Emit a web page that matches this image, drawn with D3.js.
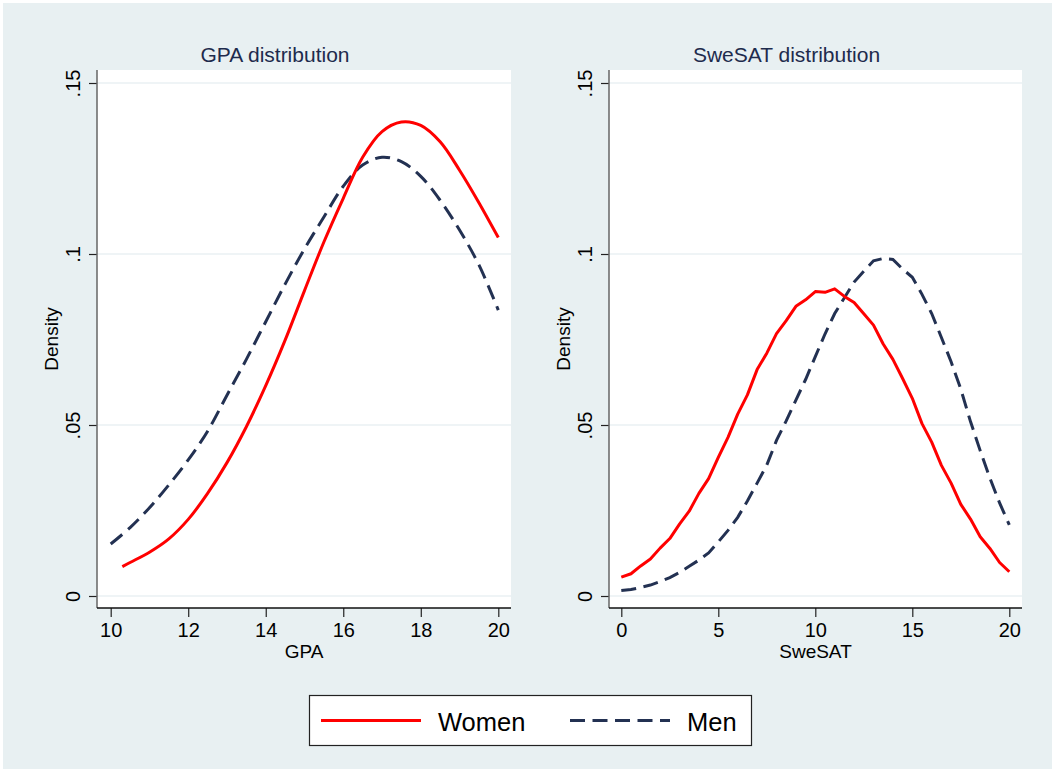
<!DOCTYPE html>
<html>
<head>
<meta charset="utf-8">
<script src="https://cdn.jsdelivr.net/npm/d3@7"></script>
<style>
  html, body { margin: 0; padding: 0; background: #ffffff; }
  svg { display: block; }
  text { font-family: "Liberation Sans", Arial, Helvetica, sans-serif; }
</style>
</head>
<body>
<svg id="chart" width="1055" height="772"></svg>
<script>
// Kernel density estimates by sex
const gpaX      = [10.0, 10.3, 10.5, 11.0, 11.5, 12.0, 12.5, 13.0, 13.5, 14.0, 14.5, 15.0, 15.5, 16.0, 16.5, 17.0, 17.5, 18.0, 18.5, 19.0, 19.5, 20.0];
const gpaWomen  = [null, 0.0086, 0.0098, 0.0128, 0.0167, 0.0224, 0.0300, 0.0390, 0.0495, 0.0615, 0.0748, 0.0893, 0.1035, 0.1163, 0.1283, 0.1358, 0.1386, 0.1376, 0.1328, 0.1245, 0.1150, 0.1048];
const gpaMen    = [0.0152, null, 0.0200, 0.0258, 0.0325, 0.0398, 0.0482, 0.0587, 0.0692, 0.0802, 0.0912, 0.1015, 0.1108, 0.1198, 0.1260, 0.1283, 0.1270, 0.1227, 0.1157, 0.1070, 0.0968, 0.0836];

const satX      = [0, 0.5, 1, 1.5, 2, 2.5, 3, 3.5, 4, 4.5, 5, 5.5, 6, 6.5, 7, 7.5, 8, 8.5, 9, 9.5, 10, 10.5, 11, 11.5, 12, 12.5, 13, 13.5, 14, 14.5, 15, 15.5, 16, 16.5, 17, 17.5, 18, 18.5, 19, 19.5, 20];
const satWomen  = [0.0055, 0.0065, 0.0088, 0.0108, 0.0140, 0.0168, 0.0210, 0.0248, 0.0300, 0.0343, 0.0405, 0.0464, 0.0532, 0.0588, 0.0662, 0.0710, 0.0767, 0.0805, 0.0847, 0.0866, 0.0890, 0.0888, 0.0898, 0.0876, 0.0858, 0.0825, 0.0792, 0.0737, 0.0692, 0.0636, 0.0578, 0.0504, 0.0450, 0.0382, 0.0330, 0.0268, 0.0225, 0.0173, 0.0139, 0.0098, 0.0071];
const satMen    = [0.0016, 0.0019, 0.0025, 0.0032, 0.0042, 0.0054, 0.0069, 0.0087, 0.0105, 0.0126, 0.0158, 0.0192, 0.0230, 0.0278, 0.0330, 0.0383, 0.0455, 0.0512, 0.0573, 0.0633, 0.0700, 0.0766, 0.0826, 0.0872, 0.0918, 0.0950, 0.0980, 0.0987, 0.0984, 0.0956, 0.0932, 0.0882, 0.0826, 0.0756, 0.0685, 0.0605, 0.0510, 0.0425, 0.0345, 0.0272, 0.0208];

const yTicks     = [0, 0.05, 0.1, 0.15];
const yTickText  = ["0", ".05", ".1", ".15"];
const gpaTicks   = [10, 12, 14, 16, 18, 20];
const satTicks   = [0, 5, 10, 15, 20];
const seriesNames = ["Women", "Men"];

const RED = "#ff0000";
const NAVY = "#233152";
const DASH = "15,7.5";

const svg = d3.select("#chart");

// graph region background
svg.append("rect")
  .attr("x", 3).attr("y", 3).attr("width", 1049).attr("height", 766)
  .attr("fill", "#e8f0f2");

const plotTop = 70, plotBottom = 608;
const y = d3.scaleLinear().domain([0, 0.15]).range([596, 83]);

function panel(opts) {
  const g = svg.append("g");
  const x = d3.scaleLinear().domain(opts.domain).range(opts.range);

  // plot region
  g.append("rect")
    .attr("x", opts.left).attr("y", plotTop)
    .attr("width", opts.right - opts.left).attr("height", plotBottom - plotTop)
    .attr("fill", "#ffffff");

  // horizontal grid
  g.selectAll(".grid").data(yTicks).join("line")
    .attr("x1", opts.left).attr("x2", opts.right)
    .attr("y1", d => y(d)).attr("y2", d => y(d))
    .attr("stroke", "#eaf1f3").attr("stroke-width", 1.5);

  // curves
  const mk = (xs, ys) => xs.map((v, i) => ({ x: v, y: ys[i] })).filter(p => p.y != null);
  const line = d3.line().x(d => x(d.x)).y(d => y(d.y)).curve(opts.curve);

  g.append("path").datum(mk(opts.xs, opts.men))
    .attr("d", line).attr("fill", "none")
    .attr("stroke", NAVY).attr("stroke-width", 3).attr("stroke-dasharray", DASH);
  g.append("path").datum(mk(opts.xs, opts.women))
    .attr("d", line).attr("fill", "none")
    .attr("stroke", RED).attr("stroke-width", 3).attr("stroke-linejoin", "round");

  // y axis
  const ya = g.append("g").attr("transform", `translate(${opts.left},0)`)
    .call(d3.axisLeft(y).tickValues(yTicks).tickSize(8).tickFormat((d, i) => yTickText[i]));
  ya.select(".domain").remove();
  ya.selectAll(".tick line").attr("stroke", "#222").attr("stroke-width", 1.2);
  ya.selectAll(".tick text")
    .attr("transform", "rotate(-90)")
    .attr("x", 0).attr("y", -17).attr("dy", 0)
    .attr("text-anchor", "middle")
    .attr("font-size", 20).attr("fill", "#000");
  g.append("line")
    .attr("x1", opts.left).attr("x2", opts.left)
    .attr("y1", plotTop).attr("y2", plotBottom)
    .attr("stroke", "#666").attr("stroke-width", 1.5);

  // x axis
  const xa = g.append("g").attr("transform", `translate(0,${plotBottom})`)
    .call(d3.axisBottom(x).tickValues(opts.ticks).tickSize(9).tickFormat(d3.format("d")));
  xa.select(".domain").remove();
  xa.selectAll(".tick line").attr("stroke", "#222").attr("stroke-width", 1.2);
  xa.selectAll(".tick text")
    .attr("y", 29).attr("dy", 0)
    .attr("font-size", 20).attr("fill", "#000");
  g.append("line")
    .attr("x1", opts.left).attr("x2", opts.right)
    .attr("y1", plotBottom).attr("y2", plotBottom)
    .attr("stroke", "#111").attr("stroke-width", 1.5);

  // titles
  g.append("text")
    .attr("x", opts.left - 29 + (opts.right - opts.left) / 2).attr("y", 62)
    .attr("text-anchor", "middle").attr("font-size", 21).attr("fill", "#1e2b4d")
    .text(opts.title);
  g.append("text")
    .attr("x", (opts.left + opts.right) / 2).attr("y", 658)
    .attr("text-anchor", "middle").attr("font-size", 19).attr("fill", "#000")
    .text(opts.xlabel);
  g.append("text")
    .attr("transform", `translate(${opts.left - 39},${(plotTop + plotBottom) / 2}) rotate(-90)`)
    .attr("text-anchor", "middle").attr("font-size", 19).attr("fill", "#000")
    .text("Density");
}

panel({
  left: 97, right: 511, domain: [10, 20], range: [110.7, 498.3],
  xs: gpaX, women: gpaWomen, men: gpaMen, ticks: gpaTicks,
  curve: d3.curveCatmullRom.alpha(0.5), title: "GPA distribution", xlabel: "GPA"
});
panel({
  left: 609, right: 1022, domain: [0, 20], range: [621.3, 1009.3],
  xs: satX, women: satWomen, men: satMen, ticks: satTicks,
  curve: d3.curveLinear, title: "SweSAT distribution", xlabel: "SweSAT"
});

// legend
const lg = svg.append("g");
lg.append("rect")
  .attr("x", 309.5).attr("y", 695.5).attr("width", 442).attr("height", 50)
  .attr("fill", "#ffffff").attr("stroke", "#222").attr("stroke-width", 1.2);
const legendItems = [
  { name: seriesNames[0], color: RED, dash: null, x0: 321, tx: 438 },
  { name: seriesNames[1], color: NAVY, dash: DASH, x0: 570, tx: 687 }
];
legendItems.forEach(it => {
  lg.append("line")
    .attr("x1", it.x0).attr("x2", it.x0 + 100).attr("y1", 720.5).attr("y2", 720.5)
    .attr("stroke", it.color).attr("stroke-width", 3)
    .attr("stroke-dasharray", it.dash);
  lg.append("text")
    .attr("x", it.tx).attr("y", 731).attr("font-size", 25.5).attr("fill", "#000")
    .text(it.name);
});
</script>
</body>
</html>
